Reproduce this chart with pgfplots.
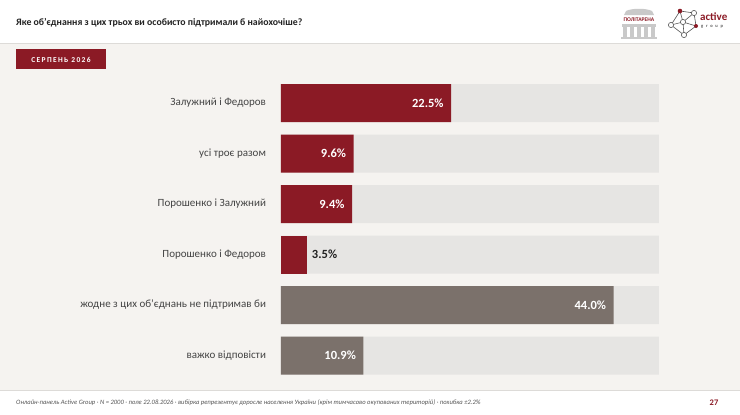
\documentclass[border=0pt]{standalone}
\usepackage{pgfplots}
\pgfplotsset{compat=1.18}
\usepackage{fontspec}
\setmainfont{Carlito}
\definecolor{agred}{HTML}{8B1A25}
\definecolor{aggray}{HTML}{7B716B}
\definecolor{barbg}{HTML}{E6E5E3}
\definecolor{pagebg}{HTML}{F5F3F0}
\definecolor{linegray}{HTML}{DDDBD8}
\definecolor{labelcol}{HTML}{444444}
\definecolor{titlecol}{HTML}{222222}
\definecolor{footcol}{HTML}{555555}
\definecolor{logogray}{HTML}{C9C9C9}
\definecolor{netgray}{HTML}{555555}
\begin{document}
\begin{tikzpicture}[x=1pt,y=1pt]
\useasboundingbox (0,0) rectangle (740,-415);
\fill[pagebg] (0,0) rectangle (740,-415);
\fill[white] (0,0) rectangle (740,-43);
\draw[linegray, line width=1.5pt] (0,-43.5) -- (740,-43.5);
\fill[white] (0,-391) rectangle (740,-415);
\draw[linegray, line width=1.5pt] (0,-390.5) -- (740,-390.5);
% title
\node[anchor=west, inner sep=0pt, font=\bfseries\fontsize{9.8}{12}\selectfont, text=titlecol] at (16,-23) {Яке об’єднання з цих трьох ви особисто підтримали б найохочіше?};
% tag
\fill[agred] (16,-49) rectangle (106,-69);
\node[text=white, inner sep=0pt, font=\bfseries\fontsize{7.5}{9}\selectfont] at (61,-59.5) {\addfontfeature{LetterSpace=18}СЕРПЕНЬ 2026};
% logo 1
\fill[logogray] (624,-15) -- (626,-11) .. controls (632,-8) and (646,-8) .. (652,-11) -- (654,-15) -- cycle;
\node[text=agred, inner sep=0pt, font=\bfseries\fontsize{5.6}{6}\selectfont] at (639,-19.5) {ПОЛІТАРЕНА};
\fill[logogray] (622,-24) rectangle (656,-27);
\foreach \cx in {623,630,637,644,651} {\fill[logogray] (\cx,-27) rectangle (\cx+4,-37);}
\fill[logogray] (621,-37) rectangle (657,-39);
% logo 2
\begin{scope}[xshift=-3pt]
\draw[netgray, line width=0.6pt] (674,-25) -- (683,-11) -- (697,-13) -- (699,-26) -- (687,-35) -- (674,-25) -- (686,-22) -- (697,-13);
\draw[netgray, line width=0.6pt] (686,-22) -- (699,-26) (686,-22) -- (687,-35) (683,-11) -- (686,-22);
\foreach \p in {(674,-25),(686,-22),(697,-13),(687,-35)} {\filldraw[fill=white, draw=netgray, line width=0.6pt] \p circle (2.6);}
\fill[agred] (683,-11) circle (2.3);
\fill[agred] (699,-26) circle (2.0);
\end{scope}
\node[anchor=west, inner sep=0pt, text=agred, font=\bfseries\fontsize{11}{12}\selectfont] at (700,-17) {active};
\node[anchor=west, inner sep=0pt, text=netgray, font=\bfseries\fontsize{4.5}{5}\selectfont] at (701,-26.5) {\addfontfeature{LetterSpace=60}group};
% footer
\node[anchor=west, inner sep=0pt, text=footcol, font=\itshape\fontsize{6.6}{8}\selectfont] at (16,-403) {Онлайн-панель Active Group · N = 2000 · поле 22.08.2026 · вибірка репрезентує доросле населення України (крім тимчасово окупованих територій) · похибка ±2.2\%};
\node[text=agred, inner sep=0pt, font=\bfseries\fontsize{8.5}{10}\selectfont] at (714,-403) {27};
\begin{axis}[
  at={(281pt,-380.75pt)}, anchor=south west,
  scale only axis, width=378pt, height=303pt,
  xmin=0, xmax=50, ymin=-0.5, ymax=5.5,
  y dir=reverse,
  xbar, bar width=38pt, bar shift=0pt,
  axis line style={draw=none},
  xtick=\empty,
  ytick={0,1,2,3,4,5},
  yticklabels={Залужний і Федоров, усі троє разом, Порошенко і Залужний, Порошенко і Федоров, жодне з цих об’єднань не підтримав би, важко відповісти},
  major tick length=0pt,
  yticklabel style={font=\fontsize{11}{13}\selectfont, text=labelcol, xshift=-11.5pt},
  clip=false,
]
\addplot[fill=barbg, draw=none] coordinates {(50,0) (50,1) (50,2) (50,3) (50,4) (50,5)};
\addplot[fill=agred, draw=none, point meta=explicit symbolic, nodes near coords,
  every node near coord/.append style={anchor=east, text=white, xshift=-4pt, font=\bfseries\fontsize{12.5}{14}\selectfont}]
  coordinates {(22.5,0) [22.5\%] (9.6,1) [9.6\%] (9.4,2) [9.4\%]};
\addplot[fill=agred, draw=none, point meta=explicit symbolic, nodes near coords,
  every node near coord/.append style={anchor=west, text=titlecol, xshift=1pt, font=\bfseries\fontsize{12.5}{14}\selectfont}]
  coordinates {(3.5,3) [3.5\%]};
\addplot[fill=aggray, draw=none, point meta=explicit symbolic, nodes near coords,
  every node near coord/.append style={anchor=east, text=white, xshift=-4pt, font=\bfseries\fontsize{12.5}{14}\selectfont}]
  coordinates {(44.0,4) [44.0\%] (10.9,5) [10.9\%]};
\end{axis}
\end{tikzpicture}
\end{document}
